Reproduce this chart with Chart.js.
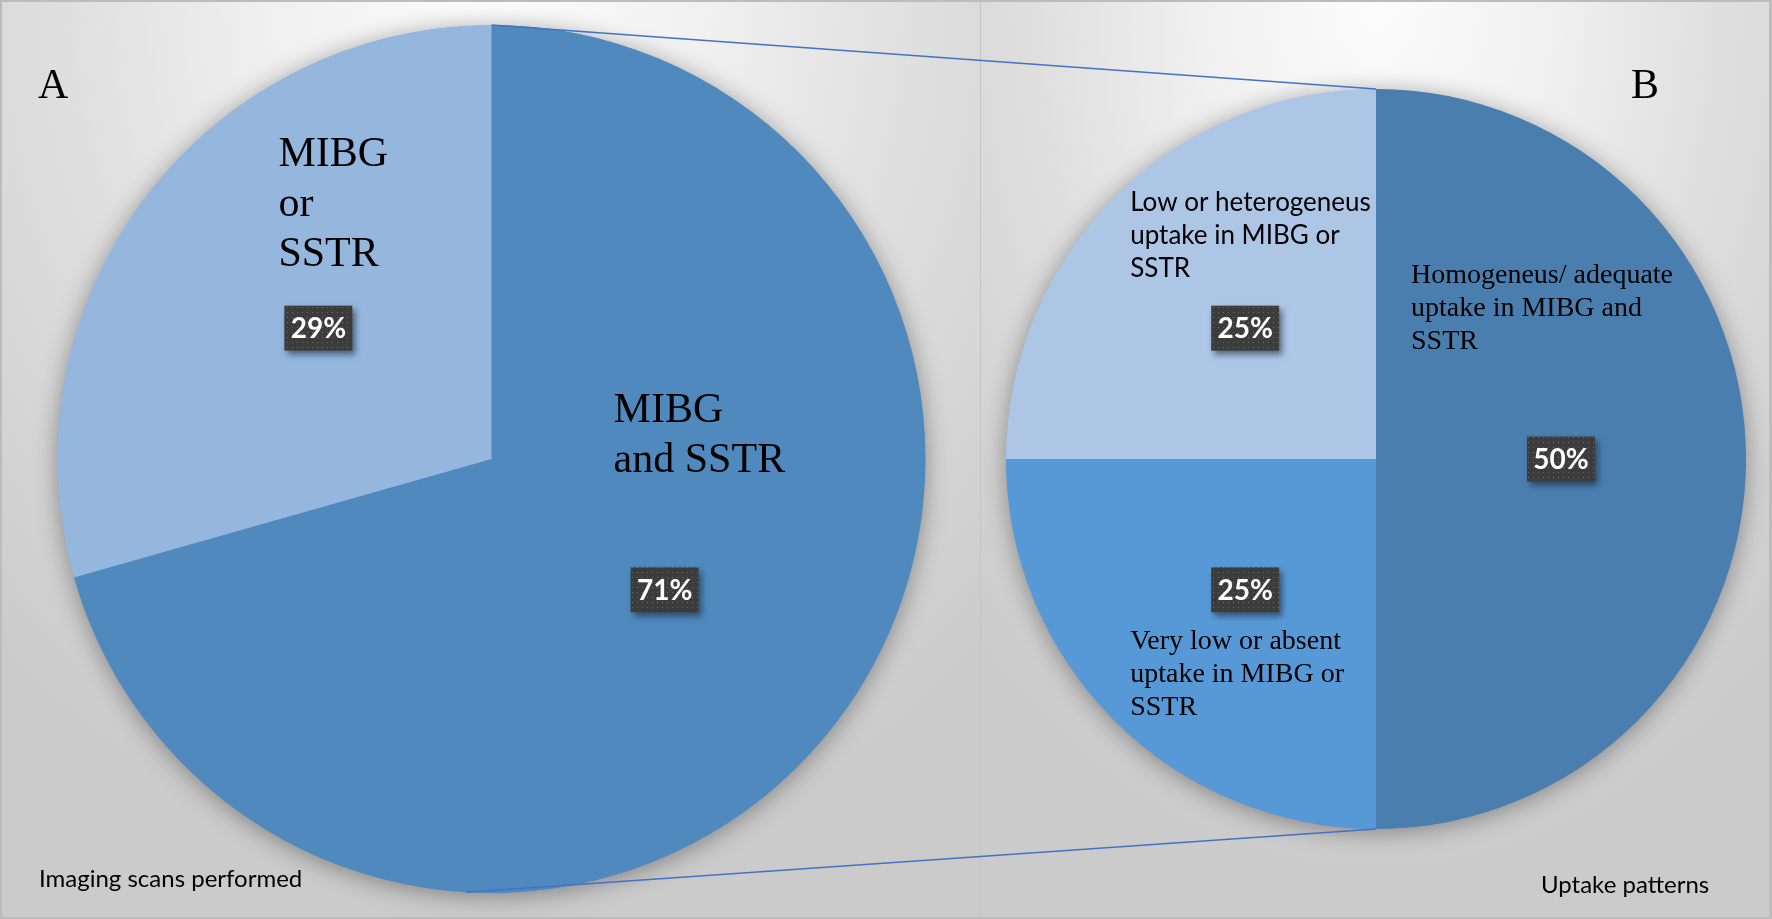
<!DOCTYPE html>
<html>
<head>
<meta charset="utf-8">
<script src="https://cdn.jsdelivr.net/npm/chart.js@4.4.1/dist/chart.umd.min.js"></script>
<style>
html, body { margin: 0; padding: 0; width: 1772px; height: 919px; overflow: hidden; background: #d0d0d0; }
.panel { position: absolute; top: 0; height: 919px; }
#pA { left: 0; width: 981px;
  background: radial-gradient(ellipse 75% 95% at 50% 0%, #fcfcfc 0%, #f1f1f1 28%, #dfdfdf 58%, #cbcbcb 100%); }
#pB { left: 981px; width: 791px;
  background: radial-gradient(ellipse 75% 95% at 50% 0%, #fcfcfc 0%, #f1f1f1 28%, #dfdfdf 58%, #cbcbcb 100%); }
#divider { position: absolute; left: 980px; top: 0; width: 1px; height: 919px; background: #c4c4c4; }
#frame { position: absolute; left: 0; top: 0; width: 1767px; height: 915px; border: 2px solid #bcbcbc; border-right-width: 3px; pointer-events: none; }
#overlay { position: absolute; left: 0; top: 0; pointer-events: none; }
canvas { display: block; }
</style>
</head>
<body>
<div class="panel" id="pA"><canvas id="chartA" width="981" height="919"></canvas></div>
<div class="panel" id="pB"><canvas id="chartB" width="791" height="919"></canvas></div>
<div id="divider"></div>
<canvas id="overlay" width="1772" height="919"></canvas>
<div id="frame"></div>
<script>
// ---------------- data ----------------
const categoriesA = [["MIBG", "and SSTR"], ["MIBG", "or", "SSTR"]];
const valuesA = [70.6, 29.4];
const categoriesB = [
  ["Homogeneus/ adequate", "uptake in MIBG and", "SSTR"],
  ["Very low or absent", "uptake in MIBG or", "SSTR"],
  ["Low or heterogeneus", "uptake in MIBG or", "SSTR"]
];
const valuesB = [50, 25, 25];
const panelLetters = ["A", "B"];
const panelTitles = ["Imaging scans performed", "Uptake patterns"];

// ---------------- styles ----------------
const colorsA = ["#4F89BD", "#95B7DE"];
const colorsB = ["#4A7EAF", "#5799D6", "#ADC6E6"];
const SERIF = '"Liberation Serif", "Times New Roman", serif';
const SANS = 'Lato, "Open Sans", sans-serif';
const catStyleA = [
  { font: "42px " + SERIF, lh: 50, dx: -51, dy: -168 },
  { font: "42px " + SERIF, lh: 50, dx: -40, dy: -162 }
];
const catStyleB = [
  { font: "28px " + SERIF, lh: 33, dx: -150, dy: -176 },
  { font: "28px " + SERIF, lh: 33, dx: -115, dy: 59 },
  { font: "26px " + SANS, lh: 33, dx: -115, dy: -117 }
];

function makeDotPattern(ctx) {
  const c = document.createElement("canvas");
  c.width = 5; c.height = 5;
  const g = c.getContext("2d");
  g.fillStyle = "#3c3c3c"; g.fillRect(0, 0, 5, 5);
  g.fillStyle = "rgba(150,150,150,0.55)"; g.fillRect(2, 2, 1, 1);
  return ctx.createPattern(c, "repeat");
}

const decorPlugin = {
  id: "decor",
  beforeDatasetsDraw(chart, args, opts) {
    const arc = chart.getDatasetMeta(0).data[0];
    const ctx = chart.ctx;
    ctx.save();
    ctx.shadowColor = "rgba(0,0,0,0.38)";
    ctx.shadowBlur = 24;
    ctx.shadowOffsetY = 3;
    ctx.fillStyle = opts.baseColor;
    ctx.beginPath();
    ctx.arc(arc.x, arc.y, arc.outerRadius - 0.5, 0, Math.PI * 2);
    ctx.fill();
    ctx.restore();
  },
  afterDatasetsDraw(chart, args, opts) {
    const ctx = chart.ctx;
    const meta = chart.getDatasetMeta(0);
    const values = chart.data.datasets[0].data;
    const pattern = makeDotPattern(ctx);
    meta.data.forEach((arc, i) => {
      const p = arc.tooltipPosition();
      // category text
      const st = opts.catStyles[i];
      ctx.save();
      ctx.fillStyle = "#000";
      ctx.font = st.font;
      ctx.textAlign = "left";
      ctx.textBaseline = "alphabetic";
      chart.data.labels[i].forEach((line, k) => {
        ctx.fillText(line, p.x + st.dx, p.y + st.dy + k * st.lh);
      });
      ctx.restore();
      // value box
      const w = 68, h = 45;
      ctx.save();
      ctx.shadowColor = "rgba(25,35,55,0.6)";
      ctx.shadowBlur = 6;
      ctx.shadowOffsetX = 3;
      ctx.shadowOffsetY = 4;
      ctx.fillStyle = pattern;
      ctx.fillRect(p.x - w / 2, p.y - h / 2, w, h);
      ctx.restore();
      ctx.save();
      ctx.fillStyle = "#ffffff";
      ctx.font = "bold 28px " + SANS;
      ctx.textAlign = "center";
      ctx.textBaseline = "middle";
      ctx.fillText(Math.round(values[i]) + "%", p.x, p.y + 1);
      ctx.restore();
    });
    // panel letter and title
    ctx.save();
    ctx.fillStyle = "#000";
    ctx.font = "42px " + SERIF;
    ctx.textAlign = "left";
    ctx.fillText(opts.letter, opts.letterPos[0], opts.letterPos[1]);
    ctx.font = "24px " + SANS;
    ctx.fillText(opts.title, opts.titlePos[0], opts.titlePos[1]);
    ctx.restore();
  }
};

function baseOptions(padding, decor) {
  return {
    responsive: false,
    animation: false,
    events: [],
    layout: { padding: padding },
    plugins: { legend: { display: false }, tooltip: { enabled: false }, title: { display: false }, decor: decor }
  };
}

const chartA = new Chart(document.getElementById("chartA"), {
  type: "pie",
  data: {
    labels: categoriesA,
    datasets: [{ data: valuesA, backgroundColor: colorsA, borderWidth: 0, hoverOffset: 0, offset: 0 }]
  },
  options: baseOptions({ left: 57.5, right: 55.5, top: 25, bottom: 26 }, {
    baseColor: colorsA[0], catStyles: catStyleA,
    letter: panelLetters[0], letterPos: [38, 97.5],
    title: panelTitles[0], titlePos: [39, 887]
  }),
  plugins: [decorPlugin]
});

const chartB = new Chart(document.getElementById("chartB"), {
  type: "pie",
  data: {
    labels: categoriesB,
    datasets: [{ data: valuesB, backgroundColor: colorsB, borderWidth: 0, hoverOffset: 0, offset: 0 }]
  },
  options: baseOptions({ left: 25, right: 26, top: 89, bottom: 90 }, {
    baseColor: colorsB[0], catStyles: catStyleB,
    letter: panelLetters[1], letterPos: [650, 98.3],
    title: panelTitles[1], titlePos: [560, 893]
  }),
  plugins: [decorPlugin]
});

// ---------------- connector lines (from chart geometry) ----------------
function drawConnectors() {
  const ov = document.getElementById("overlay").getContext("2d");
  ov.clearRect(0, 0, 1772, 919);
  const a = chartA.getDatasetMeta(0).data[0];
  const b = chartB.getDatasetMeta(0).data[0];
  const offB = document.getElementById("pB").offsetLeft;
  const topA = [a.x + a.outerRadius * Math.cos(a.startAngle), a.y + a.outerRadius * Math.sin(a.startAngle)];
  const topB = [offB + b.x + b.outerRadius * Math.cos(b.startAngle), b.y + b.outerRadius * Math.sin(b.startAngle)];
  const angA = Math.PI / 2 + 0.059;
  const botA = [a.x + a.outerRadius * Math.cos(angA), a.y + a.outerRadius * Math.sin(angA)];
  const botB = [offB + b.x + b.outerRadius * Math.cos(b.endAngle), b.y + b.outerRadius * Math.sin(b.endAngle)];
  ov.strokeStyle = "#4472C4";
  ov.lineWidth = 1.6;
  ov.beginPath();
  ov.moveTo(topA[0], topA[1]); ov.lineTo(topB[0], topB[1]);
  ov.moveTo(botA[0], botA[1]); ov.lineTo(botB[0], botB[1]);
  ov.stroke();
}
drawConnectors();
</script>
</body>
</html>
